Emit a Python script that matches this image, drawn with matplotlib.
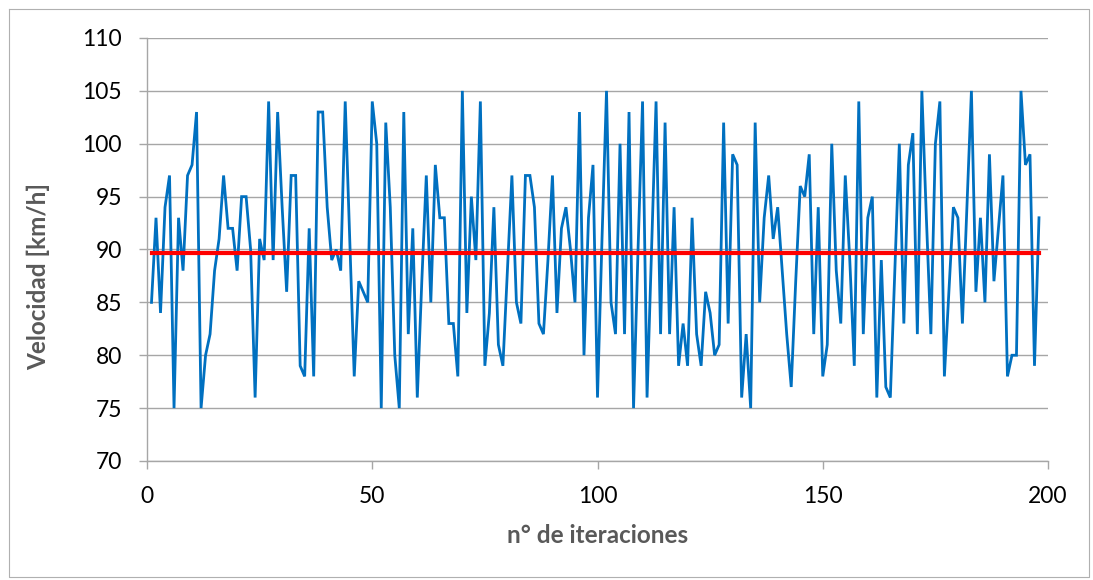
import matplotlib
matplotlib.use("Agg")
import matplotlib.pyplot as plt
from matplotlib.lines import Line2D

plt.rcParams['font.family'] = ['Lato', 'DejaVu Sans']

# Velocity recorded at each iteration (km/h)
velocidad = [
    85, 93, 84, 94, 97, 75, 93, 88, 97, 98,
    103, 75, 80, 82, 88, 91, 97, 92, 92, 88,
    95, 95, 90, 76, 91, 89, 104, 89, 103, 94,
    86, 97, 97, 79, 78, 92, 78, 103, 103, 94,
    89, 90, 88, 104, 91, 78, 87, 86, 85, 104,
    100, 75, 102, 94, 80, 75, 103, 82, 92, 76,
    87, 97, 85, 98, 93, 93, 83, 83, 78, 105,
    84, 95, 89, 104, 79, 84, 94, 81, 79, 88,
    97, 85, 83, 97, 97, 94, 83, 82, 89, 97,
    84, 92, 94, 90, 85, 103, 80, 93, 98, 76,
    91, 105, 85, 82, 100, 82, 103, 75, 90, 104,
    76, 90, 104, 82, 102, 82, 94, 79, 83, 79,
    93, 82, 79, 86, 84, 80, 81, 102, 83, 99,
    98, 76, 82, 75, 102, 85, 93, 97, 91, 94,
    88, 82, 77, 87, 96, 95, 99, 82, 94, 78,
    81, 100, 88, 83, 97, 89, 79, 104, 82, 93,
    95, 76, 89, 77, 76, 88, 100, 83, 98, 101,
    82, 105, 93, 82, 100, 104, 78, 86, 94, 93,
    83, 94, 105, 86, 93, 85, 99, 87, 92, 97,
    78, 80, 80, 105, 98, 99, 79, 93,
]
iteraciones = list(range(1, len(velocidad) + 1))

# Average velocity level
velocidad_media = 89.7

y_ticks = [70, 75, 80, 85, 90, 95, 100, 105, 110]
x_ticks = [0, 50, 100, 150, 200]

W, H = 1093, 580
fig = plt.figure(figsize=(W / 100, H / 100), dpi=100)
ax = fig.add_axes([147 / W, 1 - 461 / H, (1048 - 147) / W, (461 - 38) / H])

grid_c = '#a6a6a6'
ax.set_xlim(0, 200)
ax.set_ylim(70, 110)
ax.set_yticks(y_ticks)
ax.set_xticks(x_ticks)
ax.yaxis.grid(True, color=grid_c, linewidth=1.0)
ax.set_axisbelow(True)

for s in ['top', 'right']:
    ax.spines[s].set_visible(False)
for s in ['left', 'bottom']:
    ax.spines[s].set_color(grid_c)
    ax.spines[s].set_linewidth(1.0)

ax.tick_params(axis='both', direction='out', length=6, width=1.0,
               color=grid_c, labelsize=16.5, pad=12, labelcolor='black')

ax.plot(iteraciones, velocidad, color='#0070C0', linewidth=2.0,
        solid_joinstyle='miter', zorder=2)
ax.plot(iteraciones, [velocidad_media] * len(iteraciones), color='#FF0000',
        linewidth=3.0, zorder=3)

label_c = '#595959'
ax.set_ylabel('Velocidad [km/h]', fontsize=17.5, fontweight='bold',
              color=label_c)
ax.yaxis.set_label_coords(-0.107, 0.437)
ax.set_xlabel('n° de iteraciones', fontsize=17.5, fontweight='bold',
              labelpad=12, color=label_c)

# Outer chart frame
fc = '#b0b0b0'
x0, x1 = 8.5 / W, 1088.5 / W
y0, y1 = 1 - 577 / H, 1 - 8.5 / H
fig.add_artist(Line2D([x0, x1, x1, x0, x0], [y1, y1, y0, y0, y1],
                      transform=fig.transFigure, color=fc, linewidth=0.8))

fig.savefig('out.png', dpi=100)
